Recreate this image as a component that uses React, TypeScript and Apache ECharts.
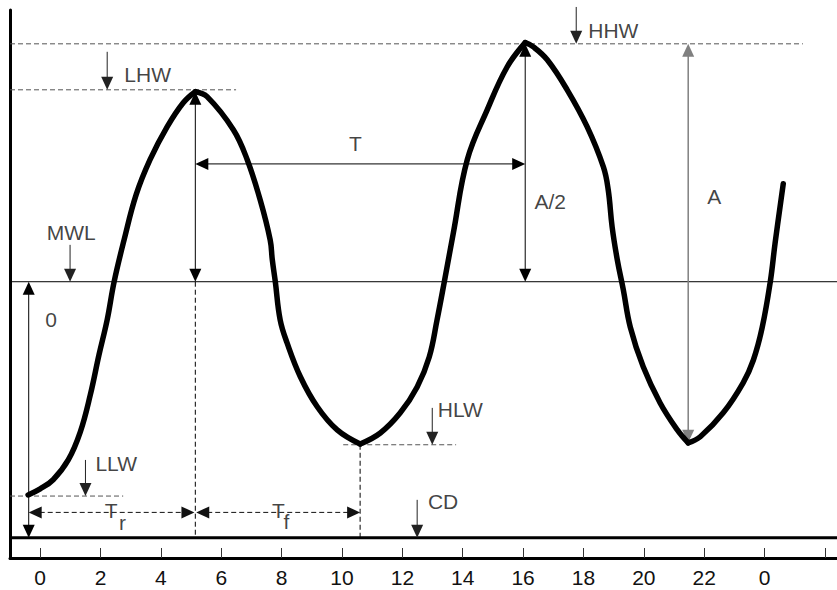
import React, { useEffect, useRef } from "react";
import * as echarts from "echarts";

// ---- tide curve (hour, height above chart datum) ----
const hours = [
  -0.4, 0.0, 0.43, 0.93, 1.33, 1.66, 1.95, 2.22, 2.45, 2.78, 3.18, 3.64, 4.21, 4.74, 5.14,
  5.53, 6.4, 6.86, 7.29, 7.62, 7.69, 7.79, 7.95, 8.18, 8.62, 9.18, 9.84, 10.6,
  11.27, 11.93, 12.49, 12.89, 13.15, 13.39, 13.69, 14.15, 14.81, 15.47, 16.07,
  16.34, 16.8, 17.46, 18.12, 18.66, 18.82, 18.95, 19.12, 19.32, 19.55, 19.98, 20.54, 21.11, 21.47,
  21.87, 22.63, 23.29, 23.63, 23.92, 24.19, 24.35, 24.62,
];
const heights = [
  1.13, 1.29, 1.53, 2.05, 2.79, 3.76, 4.82, 5.74, 6.74, 7.84, 9.03, 9.95, 10.82, 11.45, 11.74,
  11.61, 10.74, 9.95, 8.89, 7.84, 7.32, 6.74, 5.74, 5.13, 4.24, 3.45, 2.84, 2.47,
  2.76, 3.29, 3.97, 4.76, 5.74, 6.74, 8.03, 9.95, 11.26, 12.39, 13.03,
  12.92, 12.58, 11.79, 10.82, 9.76, 9.16, 8.18, 7.32, 6.53, 5.55, 4.5, 3.55, 2.84, 2.5,
  2.66, 3.29, 4.08, 4.68, 5.53, 6.74, 7.76, 9.32,
];

// ---- axis ----
const xTicks = [0, 2, 4, 6, 8, 10, 12, 14, 16, 18, 20, 22, 24, 26];
const xLabelValues = [0, 2, 4, 6, 8, 10, 12, 14, 16, 18, 20, 22, 24];

// ---- annotation segments [x1, y1, x2, y2] ----
const levelDashed = [
  [-1, 13.0, 25.27, 13.0], // HHW
  [-1, 11.79, 6.49, 11.79], // LHW
  [10.04, 2.45, 13.78, 2.45], // HLW
  [-1, 1.1, 2.75, 1.1], // LLW
];
const mwlLine = [[-1, 6.74, 26.4, 6.74]];
const cdLine = [[-1, 0, 26.4, 0]];
const dropLines = [
  [5.14, 6.74, 5.14, 0],
  [10.6, 2.45, 10.6, 0],
];
const durationArrows = [
  [-0.38, 0.67, 5.11, 0.67], // Tr
  [5.17, 0.67, 10.6, 0.67], // Tf
];
const dimArrows = [
  [-0.38, 0, -0.38, 6.74], // Z0
  [5.14, 6.74, 5.14, 11.74], // half range
  [5.14, 9.84, 16.07, 9.84], // T
  [16.07, 6.74, 16.07, 13.0], // A/2
];
const rangeArrows = [[21.47, 2.5, 21.47, 13.0]]; // A
const pointerArrows = [
  [2.22, 12.79, 2.22, 11.79], // LHW
  [17.76, 13.97, 17.76, 13.0], // HHW
  [0.99, 7.71, 0.99, 6.74], // MWL
  [12.99, 3.42, 12.99, 2.45], // HLW
  [1.5, 2.05, 1.5, 1.1], // LLW
  [12.49, 1.0, 12.49, 0], // CD
];

// ---- labels ----
const labelNames = ["LHW", "HHW", "MWL", "HLW", "LLW", "CD", "T", "A/2", "A", "0", "T", "r", "T", "f"];
const labelX = [3.56, 18.99, 1.03, 13.92, 2.52, 13.35, 10.44, 16.9, 22.33, 0.36, 2.35, 2.73, 7.89, 8.16];
const labelY = [12.2, 13.34, 8.03, 3.39, 1.95, 0.95, 10.39, 8.84, 8.97, 5.74, 0.71, 0.41, 0.71, 0.42];

const FONT = '"Liberation Sans", Arial, Helvetica, sans-serif';

type SegOpts = { color: string; width: number; dash?: number[]; heads: "none" | "both" | "end"; z?: number };

function segmentSeries(id: string, segs: number[][], opts: SegOpts) {
  return {
    type: "custom",
    id,
    coordinateSystem: "cartesian2d",
    silent: true,
    clip: false,
    z: opts.z ?? 3,
    dimensions: ["x1", "y1", "x2", "y2"],
    encode: { x: [0, 2], y: [1, 3] },
    data: segs,
    renderItem: (_params: any, api: any) => {
      const a = api.coord([api.value(0), api.value(1)]);
      const b = api.coord([api.value(2), api.value(3)]);
      const dx = b[0] - a[0];
      const dy = b[1] - a[1];
      const len = Math.hypot(dx, dy) || 1;
      const ux = dx / len;
      const uy = dy / len;
      const nx = -uy;
      const ny = ux;
      const L = 13;
      const W = 6;
      const head = (tip: number[], dirx: number, diry: number) => ({
        type: "polygon",
        shape: {
          points: [
            [tip[0], tip[1]],
            [tip[0] - dirx * L + nx * W, tip[1] - diry * L + ny * W],
            [tip[0] - dirx * L - nx * W, tip[1] - diry * L - ny * W],
          ],
        },
        style: { fill: opts.color },
      });
      let s = [a[0], a[1]];
      let e = [b[0], b[1]];
      const children: any[] = [];
      if (opts.heads === "both") {
        children.push(head(a, -ux, -uy));
        s = [a[0] + ux * (L - 2), a[1] + uy * (L - 2)];
      }
      if (opts.heads === "both" || opts.heads === "end") {
        children.push(head(b, ux, uy));
        e = [b[0] - ux * (L - 2), b[1] - uy * (L - 2)];
      }
      children.unshift({
        type: "line",
        shape: { x1: s[0], y1: s[1], x2: e[0], y2: e[1] },
        style: { stroke: opts.color, lineWidth: opts.width, lineDash: opts.dash || null },
      });
      return { type: "group", children };
    },
  };
}

function buildCurveSeries() {
  const n = hours.length;
  const breaks = [0];
  for (let i = 1; i < n - 1; i++) {
    if ((heights[i] - heights[i - 1]) * (heights[i + 1] - heights[i]) < 0) breaks.push(i);
  }
  breaks.push(n - 1);
  const out: any[] = [];
  for (let k = 0; k < breaks.length - 1; k++) {
    const data: number[][] = [];
    for (let i = breaks[k]; i <= breaks[k + 1]; i++) data.push([hours[i], heights[i]]);
    out.push({
      type: "line",
      id: "tide" + k,
      data,
      smooth: 0.4,
      showSymbol: false,
      symbol: "none",
      silent: true,
      z: 4,
      lineStyle: { color: "#000", width: 5.5, cap: "round", join: "round" },
    });
  }
  return out;
}

export default function App() {
  const ref = useRef<HTMLDivElement>(null);
  useEffect(() => {
    if (!ref.current) return;
    const chart = echarts.init(ref.current, undefined, { renderer: "svg" });
    const option: any = {
      animation: false,
      backgroundColor: "#fff",
      grid: { left: 10, right: 0, top: 10, bottom: 32, containLabel: false, outerBoundsMode: "none" },
      xAxis: {
        type: "value",
        min: -1,
        max: 26.4,
        axisLine: { show: true, onZero: false, lineStyle: { color: "#000", width: 3 } },
        axisTick: { show: true, inside: true, length: 10, lineStyle: { color: "#333", width: 1 }, customValues: xTicks },
        axisLabel: {
          show: true,
          customValues: xLabelValues,
          formatter: (v: number) => String(Math.round(v) % 24),
          fontSize: 21,
          color: "#111",
          margin: 9,
          fontFamily: FONT,
        },
        splitLine: { show: false },
      },
      yAxis: {
        type: "value",
        min: -0.53,
        max: 13.89,
        axisLine: { show: true, onZero: false, lineStyle: { color: "#000", width: 3 } },
        axisTick: { show: false },
        axisLabel: { show: false },
        splitLine: { show: false },
      },
      series: [
        segmentSeries("levels", levelDashed, { color: "#555", width: 1, dash: [5, 3], heads: "none", z: 2 }),
        segmentSeries("mwl", mwlLine, { color: "#000", width: 1, heads: "none", z: 2 }),
        segmentSeries("cd", cdLine, { color: "#000", width: 3, heads: "none", z: 2 }),
        segmentSeries("drops", dropLines, { color: "#000", width: 1, dash: [5, 3], heads: "none", z: 2 }),
        segmentSeries("durations", durationArrows, { color: "#111", width: 1, dash: [5, 3], heads: "both", z: 3 }),
        segmentSeries("dims", dimArrows, { color: "#000", width: 1, heads: "both", z: 3 }),
        segmentSeries("range", rangeArrows, { color: "#808080", width: 1.5, heads: "both", z: 3 }),
        segmentSeries("pointers", pointerArrows, { color: "#222", width: 1, heads: "end", z: 3 }),
        ...buildCurveSeries(),
        {
          type: "scatter",
          id: "labels",
          symbolSize: 0,
          silent: true,
          z: 5,
          data: labelNames.map((name, i) => ({ name, value: [labelX[i], labelY[i]] })),
          label: {
            show: true,
            position: "inside",
            formatter: "{b}",
            color: "#111",
            fontSize: 21,
            fontFamily: FONT,
          },
        },
      ],
    };
    chart.setOption(option);
    return () => chart.dispose();
  }, []);
  return (
    <div
      ref={ref}
      style={{ position: "fixed", left: 0, top: 0, width: 837, height: 590, background: "#fff" }}
    />
  );
}
